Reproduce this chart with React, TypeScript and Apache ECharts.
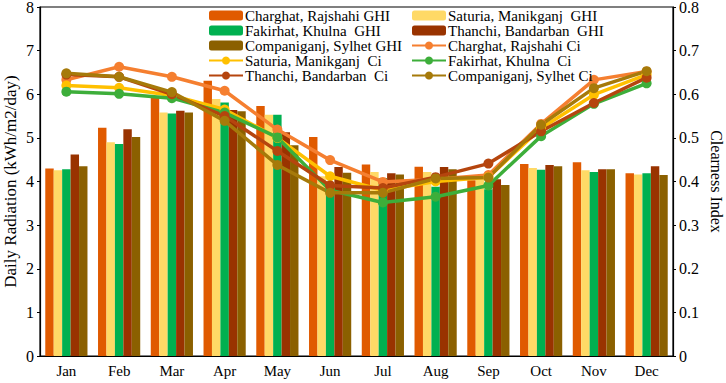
import React, { useEffect, useRef } from "react";
import * as echarts from "echarts";

const months = ["Jan", "Feb", "Mar", "Apr", "May", "Jun", "Jul", "Aug", "Sep", "Oct", "Nov", "Dec"];

const charghatGHI = [4.30, 5.23, 5.95, 6.31, 5.73, 5.02, 4.39, 4.34, 4.03, 4.40, 4.44, 4.19];
const saturiaGHI = [4.26, 4.90, 5.58, 5.89, 5.53, 4.12, 4.22, 4.22, 4.05, 4.31, 4.26, 4.16];
const fakirhatGHI = [4.28, 4.86, 5.56, 5.81, 5.53, 3.90, 4.08, 3.88, 3.82, 4.27, 4.22, 4.19];
const thanchiGHI = [4.62, 5.20, 5.62, 5.64, 5.13, 4.33, 4.19, 4.33, 4.05, 4.38, 4.28, 4.35];
const companiganjGHI = [4.35, 5.02, 5.58, 5.61, 4.83, 4.20, 4.16, 4.28, 3.92, 4.35, 4.28, 4.15];

const charghatCi = [0.633, 0.663, 0.640, 0.608, 0.519, 0.449, 0.399, 0.405, 0.415, 0.532, 0.633, 0.652];
const saturiaCi = [0.620, 0.615, 0.597, 0.565, 0.500, 0.412, 0.380, 0.400, 0.410, 0.522, 0.599, 0.645];
const fakirhatCi = [0.606, 0.601, 0.591, 0.558, 0.501, 0.380, 0.352, 0.365, 0.391, 0.504, 0.578, 0.625];
const thanchiCi = [0.645, 0.640, 0.600, 0.550, 0.470, 0.391, 0.385, 0.410, 0.441, 0.515, 0.580, 0.638];
const companiganjCi = [0.648, 0.640, 0.605, 0.539, 0.438, 0.374, 0.374, 0.407, 0.409, 0.530, 0.614, 0.653];

const barNames = [
  "Charghat, Rajshahi GHI",
  "Saturia, Manikganj  GHI",
  "Fakirhat, Khulna  GHI",
  "Thanchi, Bandarban  GHI",
  "Companiganj, Sylhet GHI",
];
const lineNames = [
  "Charghat, Rajshahi Ci",
  "Saturia, Manikganj  Ci",
  "Fakirhat, Khulna  Ci",
  "Thanchi, Bandarban  Ci",
  "Companiganj, Sylhet Ci",
];
const barColors = ["#E05A00", "#FFD966", "#00B050", "#993300", "#8B6000"];
const lineColors = ["#F57F30", "#FFC000", "#3DAE3A", "#B5450E", "#A67A0A"];

const FONT = "Liberation Serif";

export default function App() {
  const ref = useRef<HTMLDivElement>(null);
  useEffect(() => {
    if (!ref.current) return;
    const chart = echarts.init(ref.current, null, { renderer: "svg" });
    const barData = [charghatGHI, saturiaGHI, fakirhatGHI, thanchiGHI, companiganjGHI];
    const lineData = [charghatCi, saturiaCi, fakirhatCi, thanchiCi, companiganjCi];
    const series: any[] = [];
    barData.forEach((d, i) => {
      series.push({
        name: barNames[i],
        type: "bar",
        data: d,
        yAxisIndex: 0,
        barGap: "0%",
        barCategoryGap: "20%",
        itemStyle: { color: barColors[i] },
      });
    });
    lineData.forEach((d, i) => {
      series.push({
        name: lineNames[i],
        type: "line",
        data: d,
        yAxisIndex: 1,
        symbol: "circle",
        symbolSize: 10,
        lineStyle: { width: 3.5, color: lineColors[i] },
        itemStyle: { color: lineColors[i] },
      });
    });
    const allNames = [...barNames, ...lineNames];
    const leftCol = allNames.filter((_, i) => i % 2 === 0);
    const rightCol = allNames.filter((_, i) => i % 2 === 1);
    const legendCommon = {
      orient: "vertical",
      top: 8,
      itemWidth: 34,
      itemHeight: 10,
      itemGap: 0,
      padding: 0,
      textStyle: { fontFamily: FONT, fontSize: 15, color: "#000", lineHeight: 14.6, padding: [0, 0, 0, -3] },
    };
    chart.setOption({
      animation: false,
      textStyle: { fontFamily: FONT },
      grid: {
        left: 40,
        right: 53,
        top: 7,
        bottom: 27,
        containLabel: false,
        outerBoundsMode: "none",
        show: true,
        borderColor: "#000",
        borderWidth: 1.2,
      },
      legend: [
        { ...legendCommon, left: 208, data: leftCol },
        { ...legendCommon, left: 411, data: rightCol },
      ],
      xAxis: {
        type: "category",
        data: months,
        axisLine: { lineStyle: { color: "#000", width: 1.2 } },
        axisTick: { show: false },
        axisLabel: { fontFamily: FONT, fontSize: 15, color: "#000", margin: 7 },
      },
      yAxis: [
        {
          type: "value",
          min: 0,
          max: 8,
          interval: 1,
          name: "Daily Radiation (kWh/m2/day)",
          nameLocation: "middle",
          nameRotate: 90,
          nameGap: 21,
          nameMoveOverlap: false,
          nameTextStyle: { fontFamily: FONT, fontSize: 17, color: "#000" },
          axisLine: { show: true, lineStyle: { color: "#000", width: 1.2 } },
          axisTick: { show: true, length: 3, lineStyle: { color: "#000" } },
          axisLabel: { fontFamily: FONT, fontSize: 16, lineHeight: 14, color: "#000", margin: 6 },
          splitLine: { show: false },
        },
        {
          type: "value",
          min: 0,
          max: 0.8,
          interval: 0.1,
          position: "right",
          name: "Clearness Index",
          nameLocation: "middle",
          nameRotate: -90,
          nameGap: 35,
          nameMoveOverlap: false,
          nameTextStyle: { fontFamily: FONT, fontSize: 16, color: "#000" },
          axisLine: { show: true, lineStyle: { color: "#000", width: 1.2 } },
          axisTick: { show: true, length: 3, lineStyle: { color: "#000" } },
          axisLabel: { fontFamily: FONT, fontSize: 16, lineHeight: 14, color: "#000", margin: 6 },
          splitLine: { show: false },
        },
      ],
      series,
    });
    return () => chart.dispose();
  }, []);
  return <div ref={ref} style={{ width: 726, height: 383, position: "absolute", left: 0, top: 0 }} />;
}
